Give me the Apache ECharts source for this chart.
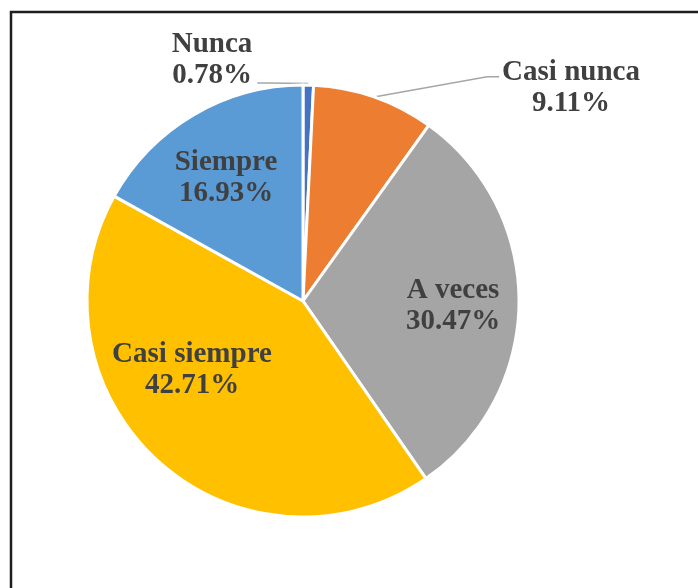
<!DOCTYPE html>
<html>
<head>
<meta charset="utf-8">
<script src="https://cdn.jsdelivr.net/npm/echarts@6/dist/echarts.min.js"></script>
<style>
html, body { margin: 0; padding: 0; background: #fff; }
#main { width: 698px; height: 588px; }
</style>
</head>
<body>
<div id="main"></div>
<script>
var categories = ['Nunca', 'Casi nunca', 'A veces', 'Casi siempre', 'Siempre'];
var percents = [0.78, 9.11, 30.47, 42.71, 16.93];

var colors = ['#4472C4', '#ED7D31', '#A5A5A5', '#FFC000', '#5B9BD5'];
var outside = [true, true, false, false, false];
// label centres, relative to the pie centre
var labelAt = [[-91, -241], [268, -213], [150, 5], [-111, 69], [-77, -123]];

var cx = 303, cy = 301, radius = 216;

var chart = echarts.init(document.getElementById('main'));

var data = categories.map(function (name, i) {
    return {
        name: name,
        value: percents[i],
        itemStyle: { color: colors[i] },
        label: { position: outside[i] ? 'outside' : 'inside' },
        labelLine: { show: outside[i] }
    };
});

// point on the rim at the middle of slice i
function rimPoint(i) {
    var total = 0, before = 0;
    percents.forEach(function (v, k) { total += v; if (k < i) before += v; });
    var a = (before + percents[i] / 2) / total * Math.PI * 2;
    return [cx + radius * Math.sin(a), cy - radius * Math.cos(a)];
}

var option = {
    backgroundColor: '#fff',
    animation: false,
    graphic: [{
        type: 'rect',
        silent: true,
        shape: { x: 11, y: 12, width: 760, height: 640 },
        style: { fill: 'none', stroke: '#1e1e1e', lineWidth: 2.5 }
    }],
    series: [{
        type: 'pie',
        center: [cx, cy],
        radius: radius,
        startAngle: 90,
        clockwise: true,
        avoidLabelOverlap: false,
        itemStyle: { borderColor: '#fff', borderWidth: 3 },
        label: {
            fontFamily: 'Liberation Serif',
            fontWeight: 'bold',
            fontSize: 29,
            lineHeight: 31,
            color: '#404040',
            formatter: function (p) {
                return p.name + '\n' + p.value.toFixed(2) + '%';
            }
        },
        labelLine: {
            length: 10,
            length2: 10,
            lineStyle: { color: '#a6a6a6', width: 1.5 }
        },
        labelLayout: function (p) {
            var i = p.dataIndex;
            var x = cx + labelAt[i][0], y = cy + labelAt[i][1];
            var w = p.labelRect.width, h = p.labelRect.height;
            var res = { x: x, y: y, align: 'center', verticalAlign: 'middle' };
            if (outside[i]) {
                var start = rimPoint(i);
                var left = x < cx;
                var ex, ey, mx;
                if (left) {
                    start = [start[0], start[1] - 1.5];
                    ex = x + w / 2 + 5; ey = start[1] - 0.5; mx = ex + 10;
                } else {
                    ex = x - w / 2 - 3; ey = y - h * 0.18; mx = ex - 12;
                }
                res.labelLinePoints = [start, [mx, ey], [ex, ey]];
            }
            return res;
        },
        data: data
    }]
};

chart.setOption(option);
</script>
</body>
</html>
